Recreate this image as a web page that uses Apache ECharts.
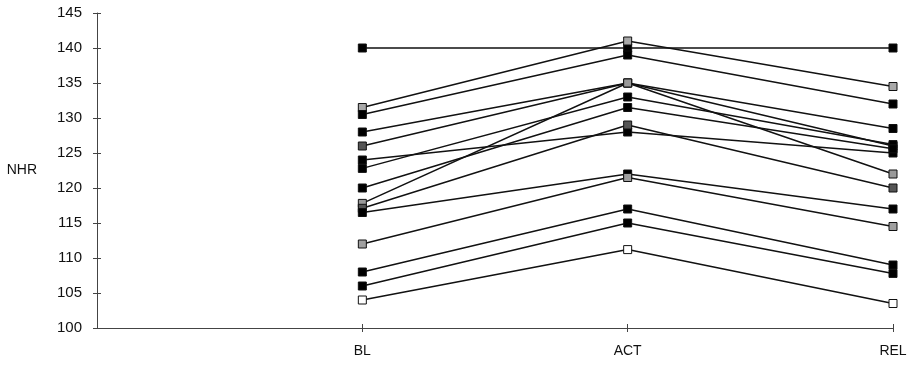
<!DOCTYPE html>
<html>
<head>
<meta charset="utf-8">
<script src="https://cdn.jsdelivr.net/npm/echarts@6/dist/echarts.min.js"></script>
<style>html,body{margin:0;padding:0;background:#fff}#c{width:913px;height:366px}</style>
</head>
<body>
<div id="c"></div>
<script>
const categories = ['', 'BL', 'ACT', 'REL'];
const yTicks = [100, 105, 110, 115, 120, 125, 130, 135, 140, 145];
const s1 = [null, 140, 140, 140];
const s2 = [null, 131.5, 141, 134.5];
const s3 = [null, 130.5, 139, 132];
const s4 = [null, 128, 135, 128.5];
const s5 = [null, 126, 135, 126];
const s6 = [null, 124, 128, 125];
const s7 = [null, 122.8, 133, 126.2];
const s8 = [null, 120, 131.5, 125.6];
const s9 = [null, 117.8, 135, 122];
const s10 = [null, 117.1, 129, 120];
const s11 = [null, 116.5, 122, 117];
const s12 = [null, 112, 121.5, 114.5];
const s13 = [null, 108, 117, 109];
const s14 = [null, 106, 115, 107.8];
const s15 = [null, 104, 111.2, 103.5];
const seriesData = [s1, s2, s3, s4, s5, s6, s7, s8, s9, s10, s11, s12, s13, s14, s15];
const fills = ['#000', '#a8a8a8', '#000', '#000', '#555', '#000', '#000', '#000', '#9a9a9a', '#555', '#000', '#a0a0a0', '#000', '#000', '#fff'];

const chart = echarts.init(document.getElementById('c'), null, {renderer: 'canvas'});
const font = 'Liberation Sans, Arial, sans-serif';
chart.setOption({
  animation: false,
  backgroundColor: '#fff',
  grid: {left: 97, right: 20, top: 13, bottom: 38, containLabel: false},
  xAxis: [{
    type: 'category', data: categories, boundaryGap: false,
    axisLine: {lineStyle: {color: '#444', width: 1}},
    axisTick: {show: true, length: 4, lineStyle: {color: '#444'}, interval: function(i){return i > 0;}},
    axisLabel: {color: '#111', fontSize: 14, fontFamily: font, margin: 16},
    splitLine: {show: false}
  }, {
    type: 'category', data: categories, boundaryGap: false, position: 'bottom',
    axisLine: {show: false},
    axisTick: {show: true, inside: true, length: 4, lineStyle: {color: '#444'}, interval: function(i){return i > 0;}},
    axisLabel: {show: false}, splitLine: {show: false}
  }],
  yAxis: [{
    type: 'value', min: 100, max: 145, interval: 5,
    name: 'NHR', nameLocation: 'middle', nameRotate: 0, nameGap: 60,
    nameTextStyle: {color: '#111', fontSize: 14, fontFamily: font},
    axisLine: {show: true, lineStyle: {color: '#444', width: 1}},
    axisTick: {show: true, length: 4, lineStyle: {color: '#444'}},
    axisLabel: {color: '#111', fontSize: 15, fontFamily: font, margin: 15,
      formatter: function(v){ return yTicks.indexOf(v) >= 0 ? String(v) : ''; }},
    splitLine: {show: false}
  }, {
    type: 'value', min: 100, max: 145, interval: 5, position: 'left',
    axisLine: {show: false},
    axisTick: {show: true, inside: true, length: 4, lineStyle: {color: '#444'}},
    axisLabel: {show: false}, splitLine: {show: false}
  }],
  series: seriesData.map(function(d, i){
    return {
      type: 'line', data: d, xAxisIndex: 0, yAxisIndex: 0,
      symbol: 'rect', symbolSize: 8, showSymbol: true,
      lineStyle: {color: '#111', width: 1.5},
      itemStyle: {color: fills[i], borderColor: '#111', borderWidth: 1},
      emphasis: {disabled: true}, z: 3 + i
    };
  })
});
</script>
</body>
</html>
